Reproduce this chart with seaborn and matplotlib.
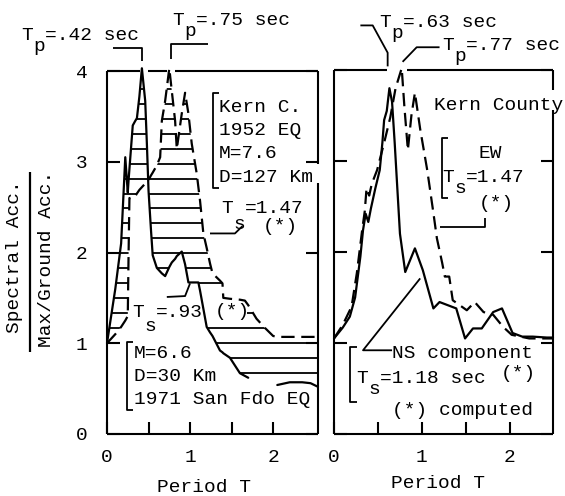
import numpy as np
import pandas as pd
import matplotlib
matplotlib.use("Agg")
import matplotlib.pyplot as plt
from matplotlib.lines import Line2D
from matplotlib.patches import Rectangle
import seaborn as sns

# ---------------- data ----------------
# Left panel: San Fernando 1971 (solid) and Kern County 1952 (dashed) spectra
period_left = [0.00, 0.10, 0.17, 0.22, 0.25, 0.26, 0.27, 0.31, 0.34, 0.36,
               0.39, 0.42, 0.46, 0.48, 0.50, 0.53, 0.55, 0.60, 0.64, 0.66,
               0.70, 0.75, 0.78, 0.82, 0.84, 0.90, 0.94, 0.98, 1.02, 1.08,
               1.10, 1.12, 1.14, 1.16, 1.20, 1.24, 1.27, 1.36, 1.39, 1.40,
               1.48, 1.60, 1.66, 1.70, 1.80, 1.90, 2.00, 2.05, 2.20, 2.35,
               2.45, 2.54]
sanfdo_ratio = [1.00, 1.60, 2.10, 3.05, 2.66, 2.80, 2.92, 3.40, 3.45, 3.48,
                3.72, 4.03, 3.67, 3.20, 2.68, 2.24, 1.97, 1.83, 1.79, 1.77,
                1.74, 1.84, 1.89, 1.93, 1.96, 2.01, 1.87, 1.67, 1.67, 1.67,
                1.67, 1.58, 1.48, 1.38, 1.18, 1.12, 1.08, 0.92, 0.90, 0.89,
                0.84, 0.67, 0.64, 0.62, 0.60, 0.58, 0.55, 0.54, 0.57, 0.57,
                0.56, 0.52]
kern_ratio = [1.00, 1.10, 1.18, 1.25, 1.30, 2.00, 2.60, 2.60, 2.62, 2.65,
              2.69, 2.72, 2.76, 2.78, 2.80, 2.85, 2.88, 2.96, 3.05, 3.45,
              3.67, 4.03, 3.78, 3.45, 3.14, 3.53, 3.76, 3.53, 3.20, 2.87,
              2.72, 2.57, 2.39, 2.21, 2.05, 1.88, 1.77, 1.69, 1.66, 1.50,
              1.49, 1.48, 1.47, 1.42, 1.27, 1.17, 1.08, 1.07, 1.07, 1.07,
              1.07, 1.07]

# Right panel: Kern County 1952, NS (solid) and EW (dashed) components
ns_period = [0.00, 0.10, 0.18, 0.24, 0.30, 0.33, 0.36, 0.39, 0.42, 0.47,
             0.52, 0.55, 0.57, 0.60, 0.63, 0.66, 0.69, 0.72, 0.75, 0.81,
             0.92, 1.01, 1.13, 1.20, 1.39, 1.49, 1.58, 1.68, 1.81, 1.91,
             2.03, 2.14, 2.26, 2.42, 2.49]
ns_ratio = [1.05, 1.17, 1.29, 1.50, 1.95, 2.24, 2.42, 2.33, 2.48, 2.70,
            2.90, 3.20, 3.45, 3.55, 3.80, 3.65, 3.20, 2.70, 2.20, 1.78,
            2.04, 1.80, 1.38, 1.45, 1.38, 1.05, 1.16, 1.16, 1.34, 1.38,
            1.11, 1.07, 1.07, 1.06, 1.06]
ew_period = [0.00, 0.10, 0.20, 0.26, 0.32, 0.35, 0.37, 0.40, 0.43, 0.49,
             0.57, 0.64, 0.70, 0.77, 0.80, 0.84, 0.88, 0.92, 0.98, 1.06,
             1.13, 1.17, 1.23, 1.26, 1.31, 1.35, 1.51, 1.60, 1.70, 1.81,
             1.92, 2.02, 2.22, 2.49]
ew_ratio = [1.05, 1.20, 1.40, 1.77, 2.24, 2.45, 2.70, 2.62, 2.75, 2.90,
            3.20, 3.48, 3.80, 4.02, 3.60, 3.12, 3.50, 3.75, 3.35, 2.90,
            2.43, 2.15, 1.88, 1.73, 1.73, 1.47, 1.36, 1.45, 1.34, 1.31,
            1.18, 1.09, 1.05, 1.05]

x_ticks = [0, 1, 2]
x_minor = [0.5, 1.5]
y_ticks = [0, 1, 2, 3, 4]

# ---------------- style ----------------
sns.set_style("white")
plt.rcParams["font.family"] = ["Liberation Mono", "DejaVu Sans Mono"]
FS = 14
CELL = 12          # width of one monospaced character, in pixels
LW = 1.5
DASH = (0, (6, 3))
INK = "black"

W, H = 565, 496
fig = plt.figure(figsize=(W / 100, H / 100), dpi=100)
fig.patch.set_facecolor("white")


def fx(x):
    return x / W


def fy(y):
    return 1 - y / H


def put(x, y, s, **kw):
    """Text with its left edge at x and baseline at y (pixels from top-left)."""
    kw.setdefault("ha", "left")
    kw.setdefault("va", "baseline")
    return fig.text(fx(x), fy(y), s, fontsize=FS, color=INK, **kw)


def put_sub(x, y, sub, rest, drop=11):
    """Typewriter-style symbol: 'T', a lowered letter, then the remainder."""
    put(x, y, "T")
    put(x + CELL, y + drop, sub)
    put(x + 2 * CELL, y, rest)


def fig_line(xs, ys, lw=LW):
    fig.add_artist(Line2D([fx(v) for v in xs], [fy(v) for v in ys],
                          transform=fig.transFigure, color=INK, lw=lw,
                          solid_capstyle="butt"))


def ax_line(ax, xs, ys, lw=LW, **kw):
    ax.plot(xs, ys, color=INK, lw=lw, clip_on=False, solid_capstyle="butt",
            **kw)


axL = fig.add_axes([fx(107), fy(434), 211 / W, 363 / H])
axR = fig.add_axes([fx(334), fy(434), 219 / W, 364 / H])

for ax, xmax in ((axL, 2.54), (axR, 2.49)):
    ax.set_xlim(0, xmax)
    ax.set_ylim(0, 4)
    ax.set_facecolor("none")
    for sp in ax.spines.values():
        sp.set_visible(False)
    ax.set_xticks(x_ticks)
    ax.set_xticks(x_minor, minor=True)
    ax.set_yticks(y_ticks)
    ax.tick_params(which="both", direction="in", length=9, width=LW,
                   color=INK, labelcolor=INK, labelsize=FS,
                   left=True, right=True, bottom=True, top=False)
    ax.tick_params(axis="x", pad=11)
    ax.tick_params(axis="y", pad=14)
axR.tick_params(labelleft=False)

# ---------------- left panel ----------------
left = pd.DataFrame({"T": period_left, "sf": sanfdo_ratio, "kern": kern_ratio})

# horizontal hatching between the two spectra
band = axL.fill_between(left["T"], left["sf"], left["kern"],
                        facecolor="none", edgecolor="none")
levels = np.arange(0.67, 4.0, 0.165)
hatch = axL.hlines(levels, 0, 2.54, colors=INK, lw=1.3, zorder=2)
hatch.set_clip_path(band.get_paths()[0], axL.transData)
# keep the hatching clear of the T_s = .93 note
axL.add_patch(Rectangle((1.12, 1.24), 0.56, 0.29, facecolor="white",
                        edgecolor="none", zorder=2.5))

# San Fernando line, interrupted where the "San Fdo" label sits
sf_drawn = left[(left["T"] <= 1.70) | (left["T"] >= 2.05)].copy()
sf_drawn["piece"] = (sf_drawn["T"] >= 2.05).astype(int)
sns.lineplot(data=sf_drawn, x="T", y="sf", units="piece", estimator=None,
             sort=False, color=INK, lw=1.6, ax=axL, zorder=4)
sns.lineplot(data=left, x="T", y="kern", estimator=None, sort=False,
             color=INK, lw=1.6, linestyle=DASH, ax=axL, zorder=4)

# ---------------- right panel ----------------
ns = pd.DataFrame({"T": ns_period, "ratio": ns_ratio})
ew = pd.DataFrame({"T": ew_period, "ratio": ew_ratio})
sns.lineplot(data=ns, x="T", y="ratio", estimator=None, sort=False,
             color=INK, lw=1.6, ax=axR, zorder=4)
sns.lineplot(data=ew, x="T", y="ratio", estimator=None, sort=False,
             color=INK, lw=1.6, linestyle=DASH, ax=axR, zorder=4)

for ax in (axL, axR):
    for ln in ax.lines:
        ln.set_clip_on(False)
    ax.set_xlabel("")
    ax.set_ylabel("")

# ---------------- frames (broken where marks and notes pass) ----------------
ax_line(axL, [0, 0], [0, 4])
ax_line(axL, [0, 2.54], [0, 0])
ax_line(axL, [0, 0.40], [4, 4])
ax_line(axL, [0.49, 0.72], [4, 4])
ax_line(axL, [0.82, 2.54], [4, 4])
ax_line(axL, [2.54, 2.54], [4, 2.98])
ax_line(axL, [2.54, 2.54], [2.77, 0])

ax_line(axR, [0, 0], [0, 4])
ax_line(axR, [0, 2.49], [0, 0])
ax_line(axR, [0, 0.60], [4, 4])
ax_line(axR, [0.83, 2.49], [4, 4])
ax_line(axR, [2.49, 2.49], [4, 3.78])
ax_line(axR, [2.49, 2.49], [3.56, 0])

# ---------------- peak-period leaders ----------------
tp_sf = period_left[int(np.argmax(sanfdo_ratio))]
tp_kern = period_left[int(np.argmax(kern_ratio))]
tp_ns = ns_period[int(np.argmax(ns_ratio))]
tp_ew = ew_period[int(np.argmax(ew_ratio))]

ax_line(axL, [0.07, tp_sf, tp_sf], [4.25, 4.25, 4.11], lw=1.3)
ax_line(axL, [1.22, tp_kern + 0.02, tp_kern + 0.02], [4.30, 4.30, 4.13], lw=1.3)
ax_line(axR, [0.30, 0.44, tp_ns - 0.02, tp_ns - 0.02],
        [4.49, 4.49, 4.19, 4.04], lw=1.3)
ax_line(axR, [1.20, 0.94, tp_ew + 0.01], [4.25, 4.25, 4.09], lw=1.3)

put_sub(21, 40, "p", "=.42 sec")
put_sub(172, 25, "p", "=.75 sec")
put_sub(379, 27, "p", "=.63 sec")
put_sub(442, 50, "p", "=.77 sec")

# ---------------- left panel notes ----------------
ax_line(axL, [1.35, 1.28, 1.28, 1.35], [3.76, 3.76, 2.71, 2.71], lw=1.3)
put(219, 112, "Kern C.")
put(219, 135, "1952 EQ")
put(219, 158, "M=7.6")
put(219, 182, "D=127 Km")

ax_line(axL, [1.24, 1.54, 1.63], [2.21, 2.21, 2.29], lw=1.3)
put_sub(221, 213, "s", "=1.47", drop=16)
put(263, 231, "(*)")

ax_line(axL, [0.72, 0.94, 1.00], [1.51, 1.52, 1.66], lw=1.3)
put_sub(132, 317, "s", "=.93", drop=14)
put(215, 316, "(*)")

ax_line(axL, [0.31, 0.24, 0.24, 0.31], [1.01, 1.01, 0.26, 0.26], lw=1.3)
put(134, 358, "M=6.6")
put(134, 381, "D=30 Km")
put(134, 404, "1971 San Fdo EQ")

# ---------------- right panel notes ----------------
put(434, 110, "Kern County")

ax_line(axR, [1.30, 1.23, 1.23, 1.30], [3.25, 3.25, 2.59, 2.59], lw=1.3)
put(479, 158, "EW")
put_sub(442, 182, "s", "=1.47")
put(479, 208, "(*)")
ax_line(axR, [1.20, 1.72, 1.72], [2.27, 2.27, 2.37], lw=1.3)

ax_line(axR, [0.98, 0.33, 0.66], [1.71, 0.92, 0.92], lw=1.3)
ax_line(axR, [0.26, 0.18, 0.18, 0.26], [0.96, 0.96, 0.35, 0.35], lw=1.3)
put(392, 358, "NS component")
put_sub(356, 383, "s", "=1.18 sec")
put(501, 378, "(*)")
put(392, 415, "(*) computed")

# ---------------- axis titles ----------------
put(204, 492, "Period T", ha="center")
put(438, 488, "Period T", ha="center")
put(15, 257, "Spectral Acc.", ha="center", va="center", rotation=90)
put(47, 259, "Max/Ground Acc.", ha="center", va="center", rotation=90)
fig_line([30, 30], [172, 352], lw=1.6)

fig.savefig("out.png", dpi=100, facecolor="white")
